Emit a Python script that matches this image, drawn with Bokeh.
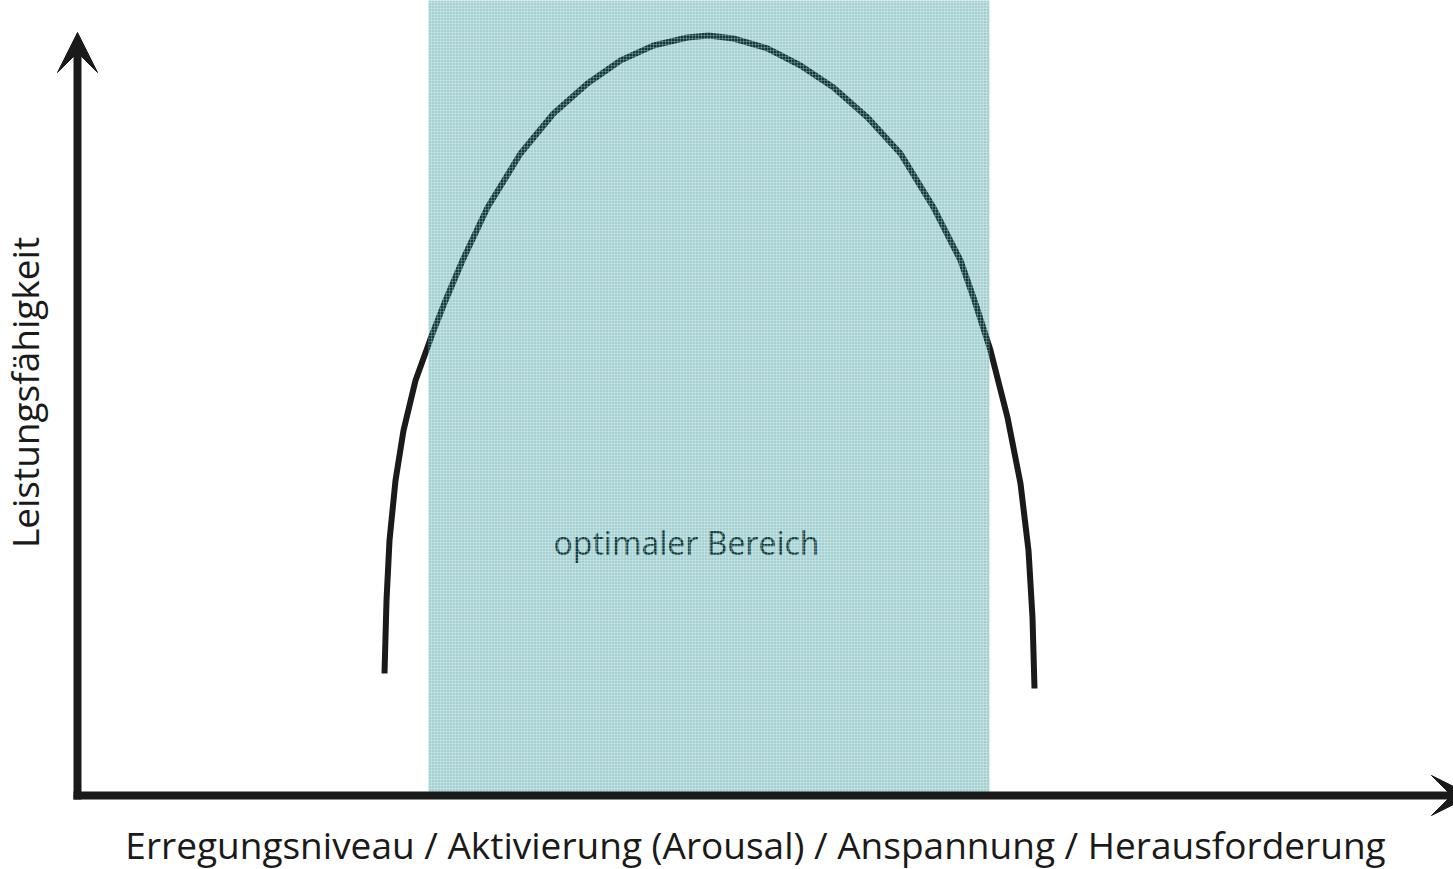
from bokeh.plotting import figure
from bokeh.models import Range1d, Arrow, VeeHead
from bokeh.core.properties import value
from bokeh.embed import file_html
from bokeh.resources import INLINE
import math

# --- data (units: arousal / performance) ---
arousal = [307, 309, 312, 318, 326, 338, 355, 368, 385, 410, 443, 476, 510, 543,
           576, 610, 631, 656, 690, 723, 756, 790, 823, 856, 883, 897, 913, 930,
           943, 951, 955, 957]
performance = [122, 195, 255, 315, 365, 415, 462, 495, 535, 588, 642, 682, 712, 735,
               750, 758, 760, 757, 747, 730, 708, 678, 642, 588, 535, 495, 445, 378,
               312, 245, 178, 107]

optimal_left = [351]
optimal_right = [912]
optimal_bottom = [3]
optimal_top = [800]

zone_label = ["optimaler Bereich"]
x_label = ["Erregungsniveau / Aktivierung (Arousal) / Anspannung / Herausforderung"]
y_label = ["Leistungsfähigkeit"]

INK = "#1a1a1a"
FONT = value("Open Sans")

p = figure(width=1453, height=869, output_backend="svg", toolbar_location=None,
           x_range=Range1d(-77, 1376), y_range=Range1d(-74, 795),
           min_border=0, background_fill_color="white", border_fill_color="white")
p.axis.visible = False
p.grid.visible = False
p.outline_line_color = None

# zone label (drawn first, the shaded area lies over it)
p.text(x=[609], y=[253], text=zone_label, text_font=FONT, text_font_size="32px",
       text_color=INK, text_align="center", text_baseline="alphabetic")

# curve
p.line(x=arousal, y=performance, line_width=6, line_color=INK, line_join="round")

# shaded optimal zone
p.quad(left=optimal_left, right=optimal_right, bottom=optimal_bottom, top=optimal_top,
       fill_color="#007b7d", fill_alpha=0.35, line_color=None,
       hatch_pattern="+", hatch_color="white", hatch_alpha=0.25, hatch_scale=3,
       hatch_weight=1)

# axis labels
p.text(x=[678], y=[-49], text=x_label, text_font=FONT, text_font_size="37px",
       text_color=INK, text_align="center", text_baseline="alphabetic")
p.text(x=[-53], y=[403], text=y_label, text_font=FONT, text_font_size="37px",
       text_color=INK, text_align="center", text_baseline="alphabetic",
       angle=math.pi / 2)

# axes with arrow heads
p.add_layout(Arrow(end=VeeHead(size=40, fill_color=INK, line_color=INK),
                   x_start=0, y_start=-4, x_end=0, y_end=763,
                   line_width=8, line_color=INK))
p.add_layout(Arrow(end=VeeHead(size=40, fill_color=INK, line_color=INK),
                   x_start=-4, y_start=0, x_end=1394, y_end=0,
                   line_width=8, line_color=INK))

open("out.html", "w").write(file_html(p, INLINE))
